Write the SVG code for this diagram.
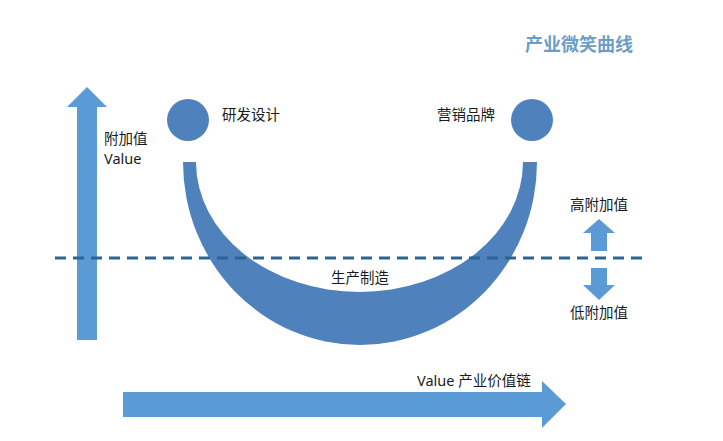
<svg xmlns="http://www.w3.org/2000/svg" width="723" height="441" viewBox="0 0 723 441">
<style>
.t{font-family:"Noto Sans","Noto Sans CJK SC",sans-serif;font-size:14.5px;fill:#1a1a1a}
.arr{fill:#5b9bd5}
.dark{fill:#4f81bd}
</style>
<rect width="723" height="441" fill="#ffffff"/>
<text x="579" y="51" text-anchor="middle" style="font-family:'Noto Sans CJK SC',sans-serif;font-size:18px;font-weight:bold;fill:#6b9dc6">产业微笑曲线</text>
<g id="value-axis">
<polygon class="arr" points="77,340 97,340 97,107 107,107 87,87 67,107 77,107"/>
<text class="t" x="104" y="144">附加值</text>
<text class="t" x="104" y="164">Value</text>
</g>
<g id="chain-axis">
<polygon class="arr" points="123,392 542,392 542,381 566,404 542,428 542,417 123,417"/>
<text class="t" x="417" y="386">Value 产业价值链</text>
</g>
<g id="smile">
<path class="dark" d="M183,162 A177,183 0 0 0 537,162 L523,162 A163.5,130 0 0 1 196,162 Z"/>
<text class="t" x="360" y="283" text-anchor="middle">生产制造</text>
</g>
<g id="rd">
<circle class="dark" cx="188" cy="120" r="21"/>
<text class="t" x="222" y="120">研发设计</text>
</g>
<g id="marketing">
<circle class="dark" cx="532" cy="120" r="21"/>
<text class="t" x="437" y="120">营销品牌</text>
</g>
<g id="connectors">
<line x1="55" y1="258" x2="642" y2="258" stroke="#2b6595" stroke-width="3" stroke-dasharray="11,7"/>
</g>
<g id="high">
<polygon class="arr" points="591,251 607,251 607,233 615,233 599,219 583,233 591,233"/>
<text class="t" x="599" y="210" text-anchor="middle">高附加值</text>
</g>
<g id="low">
<polygon class="arr" points="591,268 607,268 607,285 615,285 599,300 583,285 591,285"/>
<text class="t" x="599" y="318" text-anchor="middle">低附加值</text>
</g>
</svg>
